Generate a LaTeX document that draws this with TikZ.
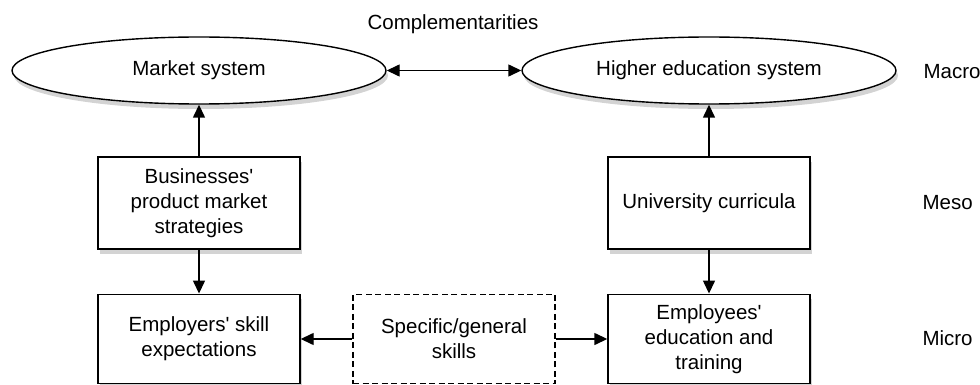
\documentclass[tikz,border=0pt]{standalone}
\usepackage{fontspec}
\setmainfont{Liberation Sans}
\usetikzlibrary{shapes.geometric,arrows.meta,shadows}
\newcommand{\apo}{\textquotesingle}
\begin{document}
\begin{tikzpicture}[x=1pt,y=-1pt,
  every node/.style={font=\fontsize{20.5}{25}\selectfont, align=center},
  shad/.style={drop shadow={shadow xshift=2pt,shadow yshift=-5pt,opacity=0.35}},
  ell/.style={ellipse, draw, line width=1.4pt, fill=white, inner sep=0pt, minimum width=374pt, minimum height=67pt, shad},
  box/.style={rectangle, draw, line width=1.4pt, fill=white, inner sep=0pt, minimum width=202pt, minimum height=92pt, shad},
  lowbox/.style={box, minimum height=89.5pt},
  dbox/.style={rectangle, draw, dash pattern=on 6pt off 3.5pt, line width=1.4pt, fill=white, inner sep=0pt, minimum width=202pt, minimum height=89.5pt},
  lbl/.style={anchor=west},
  arr/.style={-{Triangle[length=13pt,width=12pt]}, line width=1.4pt},
  darr/.style={{Triangle[length=13pt,width=12pt]}-{Triangle[length=13pt,width=12pt]}, line width=1.4pt}]
\useasboundingbox (0,0) rectangle (980,385);
\node[ell] (ms) at (199,70.5) {Market system};
\node[ell] (he) at (709,70.5) {Higher education system};
\node (comp) at (453,24) {Complementarities};
\node[box] (bp) at (199,203) {Businesses\apo\\product market\\strategies};
\node[box] (uc) at (709,203) {University curricula};
\node[lowbox] (es) at (199,339) {Employers\apo{} skill\\expectations};
\node[dbox] (sg) at (454,339) {Specific/general\\skills};
\node[lowbox] (ee) at (709,339) {Employees\apo\\education and\\training};
\node[lbl] (macro) at (920,72) {Macro};
\node[lbl] (meso) at (919,203) {Meso};
\node[lbl] (micro) at (919,338) {Micro};
\draw[darr] (ms.east) -- (he.west);
\draw[arr] (bp.north) -- (ms.south);
\draw[arr] (uc.north) -- (he.south);
\draw[arr] (bp.south) -- (es.north);
\draw[arr] (uc.south) -- (ee.north);
\draw[arr] (sg.west) -- (es.east);
\draw[arr] (sg.east) -- (ee.west);
\end{tikzpicture}
\end{document}
